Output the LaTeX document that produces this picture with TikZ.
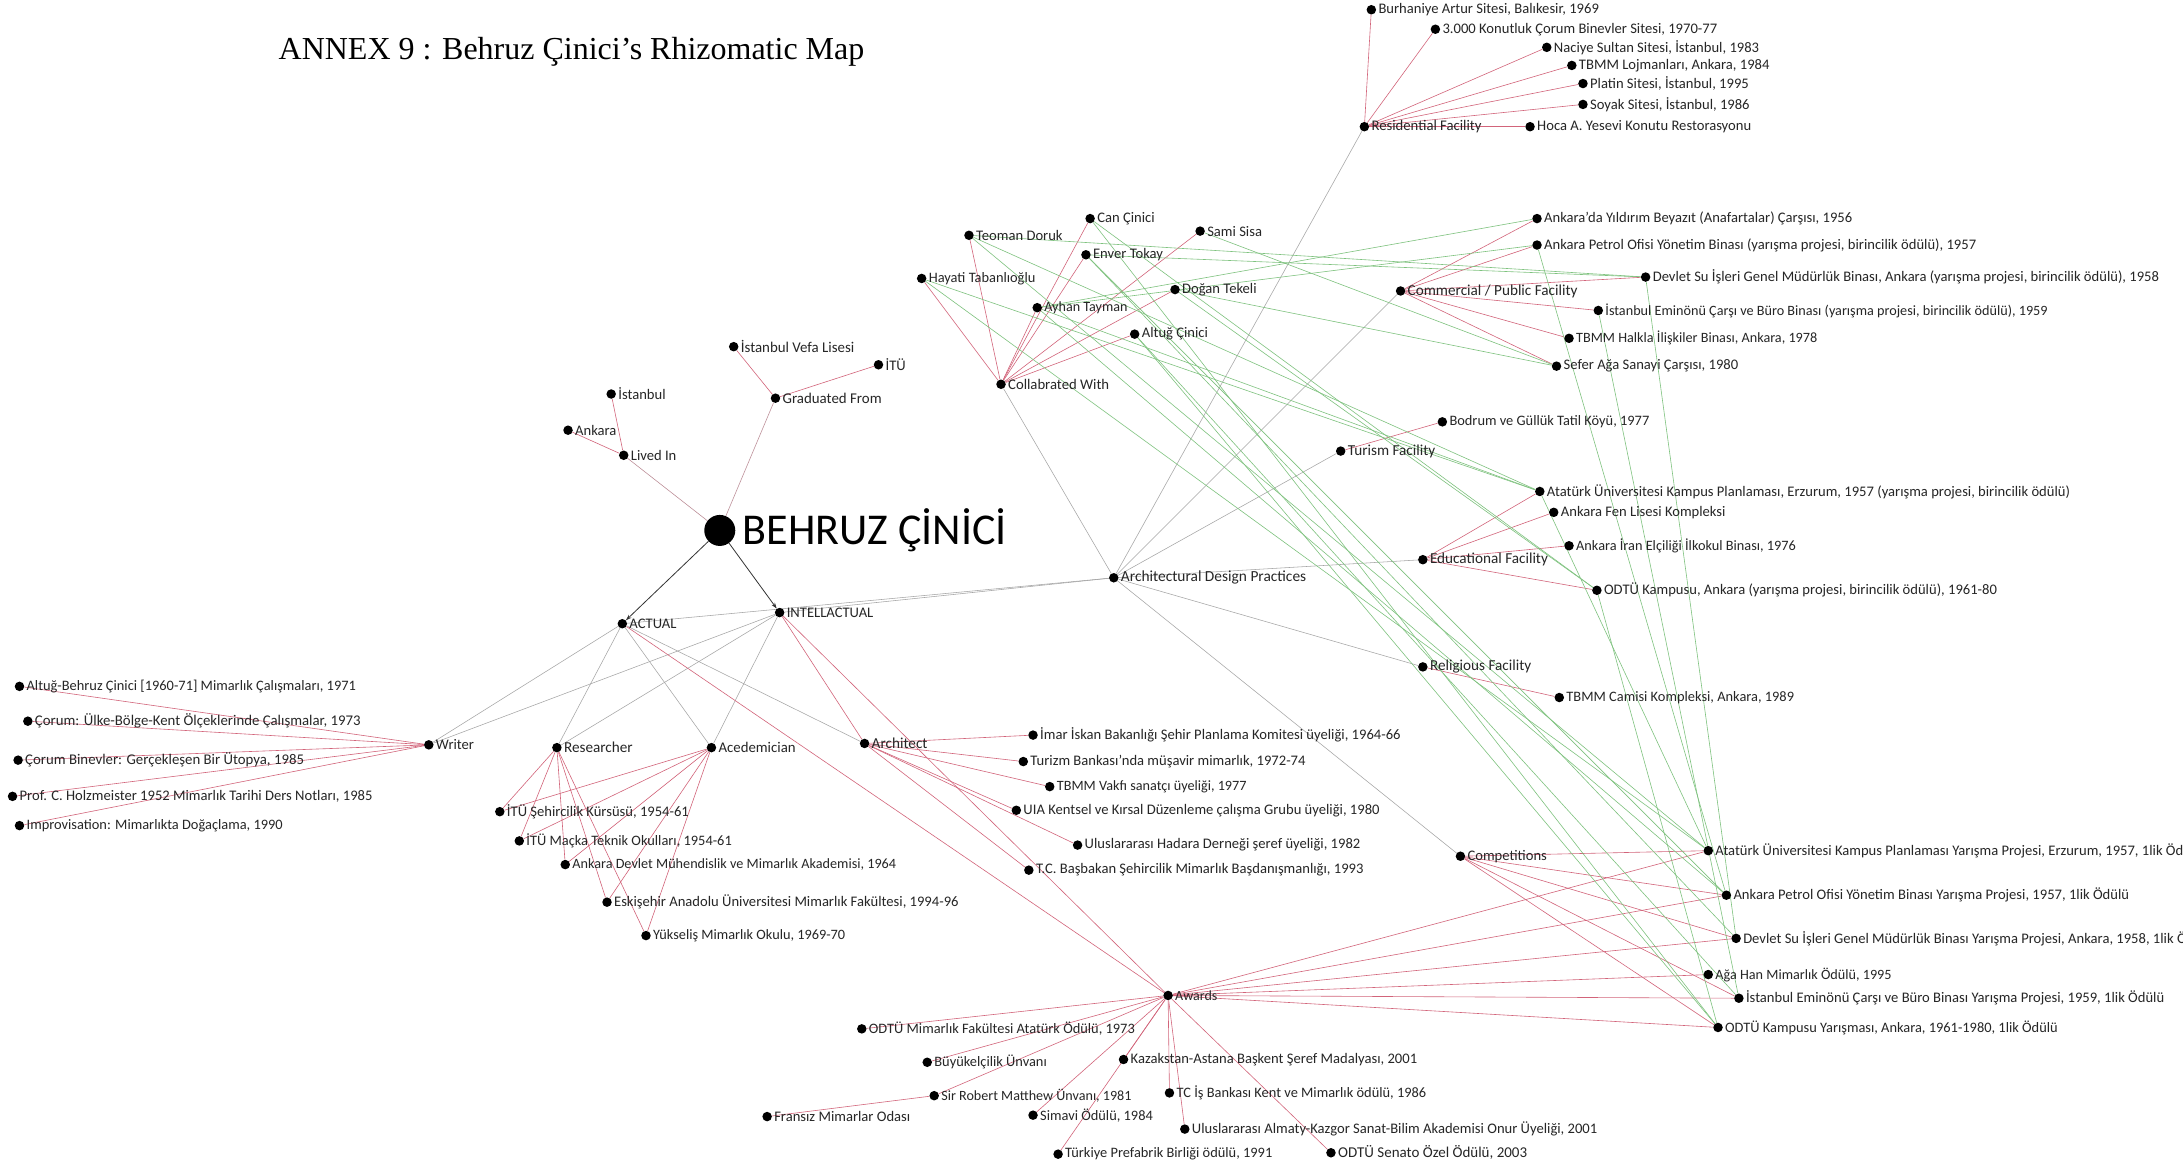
\documentclass[tikz,border=0pt]{standalone}
\usepackage{fontspec}
\setmainfont{Carlito}
\newfontfamily\titlefont{Liberation Serif}
\usetikzlibrary{arrows.meta}
\pgfdeclarelayer{paper}
\pgfdeclarelayer{edges}
\pgfsetlayers{paper,edges,main}
\definecolor{linkred}{RGB}{210,100,122}
\definecolor{linkgreen}{RGB}{126,194,126}
\definecolor{linkgray}{RGB}{165,165,165}
\begin{document}
\begin{tikzpicture}[x=1.3922pt,y=-1.3922pt,
  dot/.style={circle,fill=black,inner sep=0pt,minimum size=9.5pt},
  lbl/.style={font=\fontsize{#1}{#1}\selectfont,inner sep=2pt,text=black!85},
  lbl/.default=14.6,
  hub/.style={lbl=15.2},
  redE/.style={linkred,line width=0.6pt},
  greenE/.style={linkgreen,line width=0.6pt},
  grayE/.style={linkgray,line width=0.55pt},
  darkE/.style={black!80,line width=0.8pt,-{Stealth[length=6pt,width=4pt]}}
]
\useasboundingbox (0,0) rectangle (1568,840);
\begin{pgfonlayer}{paper}
  \fill[white] (0,0) rectangle (1568,840);
\end{pgfonlayer}

\node[anchor=west,inner sep=0pt,font=\titlefont\fontsize{32}{36}\selectfont] (title) at (200,37) {ANNEX 9 : Behruz Çinici’s Rhizomatic Map};

% centre
\node[circle,fill=black,inner sep=0pt,minimum size=31pt,label={[font=\fontsize{44}{48}\selectfont,inner sep=2pt,label distance=5pt]east:BEHRUZ ÇİNİCİ}] (bc) at (517,381) {};
\node[dot,label={[lbl]east:ACTUAL}] (act) at (447,448) {};
\node[dot,label={[lbl]east:INTELLACTUAL}] (int) at (560,440) {};

% lived in / graduated from
\node[dot,label={[lbl]east:Lived In}] (lived) at (448,327) {};
\node[dot,label={[lbl]east:İstanbul}] (ist) at (439,283) {};
\node[dot,label={[lbl]east:Ankara}] (ank) at (408,309) {};
\node[dot,label={[lbl=14.9]east:Graduated From}] (grad) at (557,286) {};
\node[dot,label={[lbl=14.9]east:İstanbul Vefa Lisesi}] (vefa) at (527,249) {};
\node[dot,label={[lbl]east:İTÜ}] (itu) at (631,262) {};

% residential
\node[dot,label={[lbl=14.7]east:Residential Facility}] (res) at (980,91) {};
\node[dot,label={[lbl]east:Burhaniye Artur Sitesi, Balıkesir, 1969}] (r1) at (985,7) {};
\node[dot,label={[lbl]east:3.000 Konutluk Çorum Binevler Sitesi, 1970-77}] (r2) at (1031,21) {};
\node[dot,label={[lbl]east:Naciye Sultan Sitesi, İstanbul, 1983}] (r3) at (1111,34) {};
\node[dot,label={[lbl]east:TBMM Lojmanları, Ankara, 1984}] (r4) at (1129,47) {};
\node[dot,label={[lbl]east:Platin Sitesi, İstanbul, 1995}] (r5) at (1137,60) {};
\node[dot,label={[lbl]east:Soyak Sitesi, İstanbul, 1986}] (r6) at (1137,75) {};
\node[dot,label={[lbl]east:Hoca A. Yesevi Konutu Restorasyonu}] (r7) at (1099,91) {};

% collaborators
\node[dot,label={[lbl=14.7]east:Collabrated With}] (col) at (719,276) {};
\node[dot,label={[lbl]east:Can Çinici}] (c1) at (783,157) {};
\node[dot,label={[lbl]east:Teoman Doruk}] (c2) at (696,169) {};
\node[dot,label={[lbl]east:Sami Sisa}] (c3) at (862,166) {};
\node[dot,label={[lbl]east:Enver Tokay}] (c4) at (780,183) {};
\node[dot,label={[lbl=14.4]east:Hayati Tabanlıoğlu}] (c5) at (662,200) {};
\node[dot,label={[lbl]east:Doğan Tekeli}] (c6) at (844,208) {};
\node[dot,label={[lbl=14.1]east:Ayhan Tayman}] (c7) at (745,221) {};
\node[dot,label={[lbl]east:Altuğ Çinici}] (c8) at (815,240) {};

% commercial / public
\node[dot,label={[hub]east:Commercial / Public Facility}] (com) at (1006,209) {};
\node[dot,label={[lbl]east:Ankara’da Yıldırım Beyazıt (Anafartalar) Çarşısı, 1956}] (m1) at (1104,157) {};
\node[dot,label={[lbl]east:Ankara Petrol Ofisi Yönetim Binası (yarışma projesi, birincilik ödülü), 1957}] (m2) at (1104,176) {};
\node[dot,label={[lbl]east:Devlet Su İşleri Genel Müdürlük Binası, Ankara (yarışma projesi, birincilik ödülü), 1958}] (m3) at (1182,199) {};
\node[dot,label={[lbl=14.2]east:İstanbul Eminönü Çarşı ve Büro Binası (yarışma projesi, birincilik ödülü), 1959}] (m4) at (1148,223) {};
\node[dot,label={[lbl=14.2]east:TBMM Halkla İlişkiler Binası, Ankara, 1978}] (m5) at (1127,243) {};
\node[dot,label={[lbl]east:Sefer Ağa Sanayi Çarşısı, 1980}] (m6) at (1118,263) {};

% tourism
\node[dot,label={[hub]east:Turism Facility}] (tur) at (963,324) {};
\node[dot,label={[lbl=14.4]east:Bodrum ve Güllük Tatil Köyü, 1977}] (t1) at (1036,303) {};

% educational
\node[dot,label={[hub]east:Educational Facility}] (edu) at (1022,402) {};
\node[dot,label={[lbl]east:Atatürk Üniversitesi Kampus Planlaması, Erzurum, 1957 (yarışma projesi, birincilik ödülü)}] (e1) at (1106,353) {};
\node[dot,label={[lbl]east:Ankara Fen Lisesi Kompleksi}] (e2) at (1116,368) {};
\node[dot,label={[lbl=14.3]east:Ankara İran Elçiliği İlkokul Binası, 1976}] (e3) at (1127,392) {};
\node[dot,label={[lbl]east:ODTÜ Kampusu, Ankara (yarışma projesi, birincilik ödülü), 1961-80}] (e4) at (1147,424) {};

% religious
\node[dot,label={[hub]east:Religious Facility}] (rel) at (1022,479) {};
\node[dot,label={[lbl=14.4]east:TBMM Camisi Kompleksi, Ankara, 1989}] (g1) at (1120,501) {};

\node[dot,label={[lbl=15.4]east:Architectural Design Practices}] (adp) at (800,415) {};

% writer
\node[dot,label={[lbl]east:Writer}] (wr) at (308,535) {};
\node[dot,label={[lbl=14.4]east:Altuğ-Behruz Çinici [1960-71] Mimarlık Çalışmaları, 1971}] (w1) at (14,493) {};
\node[dot,label={[lbl=14.8]east:Çorum: Ülke-Bölge-Kent Ölçeklerinde Çalışmalar, 1973}] (w2) at (20,518) {};
\node[dot,label={[lbl=14.8]east:Çorum Binevler: Gerçekleşen Bir Ütopya, 1985}] (w3) at (13,546) {};
\node[dot,label={[lbl]east:Prof. C. Holzmeister 1952 Mimarlık Tarihi Ders Notları, 1985}] (w4) at (9,572) {};
\node[dot,label={[lbl=14.4]east:Improvisation: Mimarlıkta Doğaçlama, 1990}] (w5) at (14,593) {};

% researcher / academician
\node[dot,label={[hub]east:Researcher}] (rsr) at (400,537) {};
\node[dot,label={[lbl=14.8]east:Acedemician}] (aca) at (511,537) {};
\node[dot,label={[lbl]east:İTÜ Şehircilik Kürsüsü, 1954-61}] (a1) at (359,583) {};
\node[dot,label={[lbl=14.4]east:İTÜ Maçka Teknik Okulları, 1954-61}] (a2) at (373,604) {};
\node[dot,label={[lbl=14.2]east:Ankara Devlet Mühendislik ve Mimarlık Akademisi, 1964}] (a3) at (406,621) {};
\node[dot,label={[lbl]east:Eskişehir Anadolu Üniversitesi Mimarlık Fakültesi, 1994-96}] (a4) at (436,648) {};
\node[dot,label={[lbl=14.3]east:Yükseliş Mimarlık Okulu, 1969-70}] (a5) at (464,672) {};

% architect
\node[dot,label={[hub]east:Architect}] (arc) at (621,534) {};
\node[dot,label={[lbl]east:İmar İskan Bakanlığı Şehir Planlama Komitesi üyeliği, 1964-66}] (p1) at (742,528) {};
\node[dot,label={[lbl]east:Turizm Bankası’nda müşavir mimarlık, 1972-74}] (p2) at (735,547) {};
\node[dot,label={[lbl=14.2]east:TBMM Vakfı sanatçı üyeliği, 1977}] (p3) at (754,565) {};
\node[dot,label={[lbl]east:UIA Kentsel ve Kırsal Düzenleme çalışma Grubu üyeliği, 1980}] (p4) at (730,582) {};
\node[dot,label={[lbl]east:Uluslararası Hadara Derneği şeref üyeliği, 1982}] (p5) at (774,607) {};
\node[dot,label={[lbl]east:T.C. Başbakan Şehircilik Mimarlık Başdanışmanlığı, 1993}] (p6) at (739,625) {};

% competitions
\node[dot,label={[lbl]east:Competitions}] (cmp) at (1049,615) {};
\node[dot,label={[lbl]east:Atatürk Üniversitesi Kampus Planlaması Yarışma Projesi, Erzurum, 1957, 1lik Ödülü}] (k1) at (1227,611) {};
\node[dot,label={[lbl]east:Ankara Petrol Ofisi Yönetim Binası Yarışma Projesi, 1957, 1lik Ödülü}] (k2) at (1240,643) {};
\node[dot,label={[lbl]east:Devlet Su İşleri Genel Müdürlük Binası Yarışma Projesi, Ankara, 1958, 1lik Ödülü}] (k3) at (1247,674) {};
\node[dot,label={[lbl=14.2]east:Ağa Han Mimarlık Ödülü, 1995}] (k4) at (1227,700) {};
\node[dot,label={[lbl]east:İstanbul Eminönü Çarşı ve Büro Binası Yarışma Projesi, 1959, 1lik Ödülü}] (k5) at (1249,717) {};
\node[dot,label={[lbl=14.4]east:ODTÜ Kampusu Yarışması, Ankara, 1961-1980, 1lik Ödülü}] (k6) at (1234,738) {};

% awards
\node[dot,label={[lbl=14]east:Awards}] (aw) at (839,715) {};
\node[dot,label={[lbl=14.4]east:ODTÜ Mimarlık Fakültesi Atatürk Ödülü, 1973}] (d1) at (619,739) {};
\node[dot,label={[lbl=14.4]east:Büyükelçilik Ünvanı}] (d2) at (666,763) {};
\node[dot,label={[lbl]east:Kazakstan-Astana Başkent Şeref Madalyası, 2001}] (d3) at (807,761) {};
\node[dot,label={[lbl=14.1]east:Sir Robert Matthew Ünvanı, 1981}] (d4) at (671,787) {};
\node[dot,label={[lbl=14.4]east:TC İş Bankası Kent ve Mimarlık ödülü, 1986}] (d5) at (840,785) {};
\node[dot,label={[lbl]east:Fransız Mimarlar Odası}] (d6) at (551,802) {};
\node[dot,label={[lbl=14.4]east:Simavi Ödülü, 1984}] (d7) at (742,801) {};
\node[dot,label={[lbl]east:Uluslararası Almaty-Kazgor Sanat-Bilim Akademisi Onur Üyeliği, 2001}] (d8) at (851,811) {};
\node[dot,label={[lbl=14.4]east:Türkiye Prefabrik Birliği ödülü, 1991}] (d9) at (760,829) {};
\node[dot,label={[lbl=15]east:ODTÜ Senato Özel Ödülü, 2003}] (d10) at (956,828) {};

\begin{pgfonlayer}{edges}
  % hierarchy
  \draw[darkE] (bc) -- (act);
  \draw[darkE] (bc) -- (int);
  \foreach \t in {lived,grad} \draw[grayE,linkred!45!linkgray] (bc) -- (\t);
  \foreach \t in {wr,rsr,aca,arc,adp} \draw[grayE] (act) -- (\t);
  \foreach \t in {wr,rsr,aca,adp} \draw[grayE] (int) -- (\t);
  \draw[redE] (int) -- (arc);
  \foreach \t in {col,res,com,tur,edu,rel,cmp} \draw[grayE] (adp) -- (\t);
  \draw[redE] (act) -- (aw);
  \draw[redE] (int) -- (aw);
  % red: categories to items
  \foreach \t in {ist,ank} \draw[redE] (lived) -- (\t);
  \foreach \t in {vefa,itu} \draw[redE] (grad) -- (\t);
  \foreach \t in {r1,r2,r3,r4,r5,r6,r7} \draw[redE] (res) -- (\t);
  \foreach \t in {c1,c2,c3,c4,c5,c6,c7,c8} \draw[redE] (col) -- (\t);
  \foreach \t in {m1,m2,m3,m4,m5,m6} \draw[redE] (com) -- (\t);
  \draw[redE] (tur) -- (t1);
  \foreach \t in {e1,e2,e3,e4} \draw[redE] (edu) -- (\t);
  \draw[redE] (rel) -- (g1);
  \foreach \t in {w1,w2,w3,w4,w5} \draw[redE] (wr) -- (\t);
  \foreach \t in {a1,a2,a3,a4,a5} {\draw[redE] (rsr) -- (\t); \draw[redE] (aca) -- (\t);}
  \foreach \t in {p1,p2,p3,p4,p5,p6} \draw[redE] (arc) -- (\t);
  \foreach \t in {k1,k2,k3,k5,k6} \draw[redE] (cmp) -- (\t);
  \foreach \t in {k1,k2,k3,k4,k5,k6} \draw[redE] (aw) -- (\t);
  \foreach \t in {d1,d2,d3,d4,d5,d7,d8,d9,d10} \draw[redE] (aw) -- (\t);
  \draw[redE] (d4) -- (d6);
  % green: people and projects
  \foreach \a/\b in {c2/m3,c4/m3,c7/m1,c7/m2,c3/m6,c6/m6,
      m2/k2,m3/k3,m4/k5,e1/k1,e4/k6,
      c5/e1,c2/e1,c7/e1,c2/k1,c5/k1,c4/k3,c7/k2,c4/k2,
      c1/e4,c1/k6,c8/k5,c8/k6,c6/e4}
    \draw[greenE] (\a) -- (\b);
\end{pgfonlayer}
\end{tikzpicture}
\end{document}
